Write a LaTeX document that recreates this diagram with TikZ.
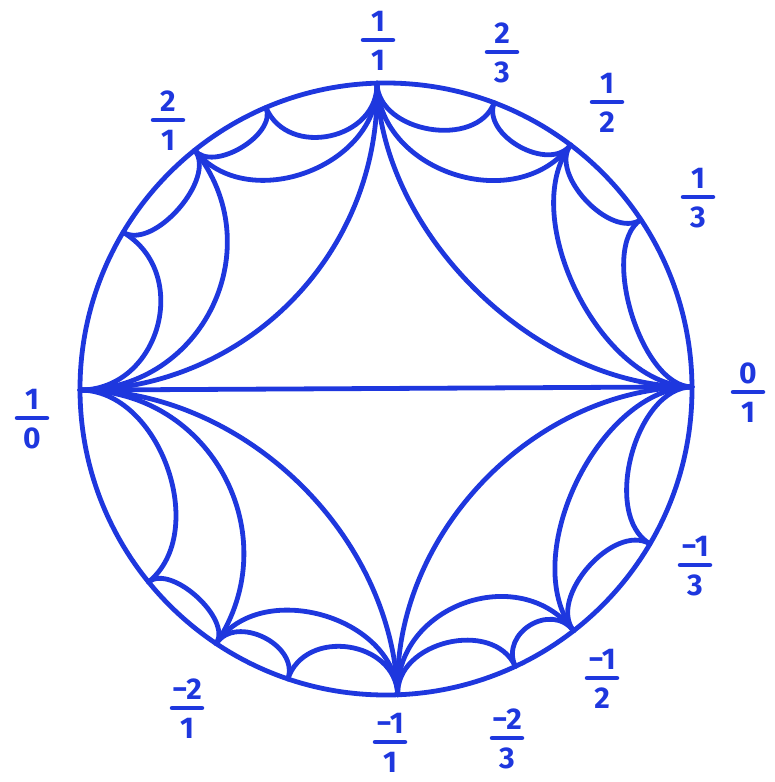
\documentclass[tikz,border=0pt]{standalone}
\usepackage{fontspec}
\setmainfont{Fira Sans}
\usetikzlibrary{calc}
\definecolor{ink}{RGB}{30,55,222}
% geodesic between two boundary points: names, angles, flattening factor
\newcommand\geo[5]{%
  \pgfmathsetmacro\gth{abs(#4-#3)}%
  \pgfmathsetmacro\gth{min(\gth,360-\gth)}%
  \pgfmathsetmacro\gk{#5*4/3*tan((180-\gth)/4)*tan(\gth/2)}%
  \draw[geo] (#1) .. controls ($(#1)!\gk!(O)$) and ($(#2)!\gk!(O)$) .. (#2);}
% hand-written fraction label: name, bar centre, numerator, denominator
\newcommand\frlab[4]{%
  \coordinate (#1) at (#2);
  \node[lab] (#1n) at ($(#1)+(0,-19)$) {#3};
  \node[lab] (#1d) at ($(#1)+(0,20)$) {#4};
  \draw[bar] ($(#1)+(-15,0)$) -- ($(#1)+(15,0)$);}
\begin{document}
\begin{tikzpicture}[x=1pt,y=-1pt,
  geo/.style={draw=ink,line width=4.8pt,line cap=round,line join=round},
  bar/.style={draw=ink,line width=4.5pt,line cap=round},
  lab/.style={text=ink,font=\fontsize{30}{33}\selectfont\bfseries,inner sep=0pt}]
\useasboundingbox (0,0) rectangle (775,782);
\coordinate (O) at (386,389);
\foreach \n/\a in {one/91.7,twothirds/69.3,half/52.9,third/33.6,zero/0.4,
  mthird/-30.4,mhalf/-52.2,mtwothirds/-65.0,mone/-87.8,mthreehalves/-108.7,
  mtwo/-123.7,mthree/-140.9,inf/180.2,three/149.2,two/128.7,threehalves/113.1}
  \coordinate (\n) at ({386+306*cos(\a)},{389-306*sin(\a)});
\draw[geo] (O) circle[radius=306pt];
\draw[geo] (inf) -- (zero);
% level 1
\geo{inf}{one}{180.2}{91.7}{1}
\geo{one}{zero}{91.7}{0.4}{0.9}
\geo{zero}{mone}{0.4}{-87.8}{0.95}
\geo{mone}{inf}{-87.8}{180.2}{0.95}
% level 2
\geo{inf}{two}{180.2}{128.7}{1}
\geo{two}{one}{128.7}{91.7}{0.85}
\geo{one}{half}{91.7}{52.9}{0.88}
\geo{half}{zero}{52.9}{0.4}{0.72}
\geo{zero}{mhalf}{0.4}{-52.2}{0.74}
\geo{mhalf}{mone}{-52.2}{-87.8}{0.93}
\geo{mone}{mtwo}{-87.8}{-123.7}{0.82}
\geo{mtwo}{inf}{-123.7}{180.2}{1}
% level 3
\geo{inf}{three}{180.2}{149.2}{0.93}
\geo{three}{two}{149.2}{128.7}{0.58}
\geo{two}{threehalves}{128.7}{113.1}{0.6}
\geo{threehalves}{one}{113.1}{91.7}{0.88}
\geo{one}{twothirds}{91.7}{69.3}{0.75}
\geo{twothirds}{half}{69.3}{52.9}{0.69}
\geo{half}{third}{52.9}{33.6}{0.62}
\geo{third}{zero}{33.6}{0.4}{0.56}
\geo{zero}{mthird}{0.4}{-30.4}{0.66}
\geo{mthird}{mhalf}{-30.4}{-52.2}{0.65}
\geo{mhalf}{mtwothirds}{-52.2}{-65.0}{0.9}
\geo{mtwothirds}{mone}{-65.0}{-87.8}{0.79}
\geo{mone}{mthreehalves}{-87.8}{-108.7}{0.87}
\geo{mthreehalves}{mtwo}{-108.7}{-123.7}{0.76}
\geo{mtwo}{mthree}{-123.7}{-140.9}{0.55}
\geo{mthree}{inf}{-140.9}{180.2}{0.78}
% labels
\frlab{Lone}{378,40}{1}{1}
\frlab{Ltwothirds}{502,52}{2}{3}
\frlab{Lhalf}{607,102}{1}{2}
\frlab{Lthird}{698,197}{1}{3}
\frlab{Lzero}{748,392}{0}{1}
\frlab{Lmthird}{695,565}{−1}{3}
\frlab{Lmhalf}{602,678}{−1}{2}
\frlab{Lmtwothirds}{507,738}{−2}{3}
\frlab{Lmone}{390,742}{−1}{1}
\frlab{Lmtwo}{187,708}{−2}{1}
\frlab{Linf}{32,418}{1}{0}
\frlab{Ltwo}{168,120}{2}{1}
\end{tikzpicture}
\end{document}
